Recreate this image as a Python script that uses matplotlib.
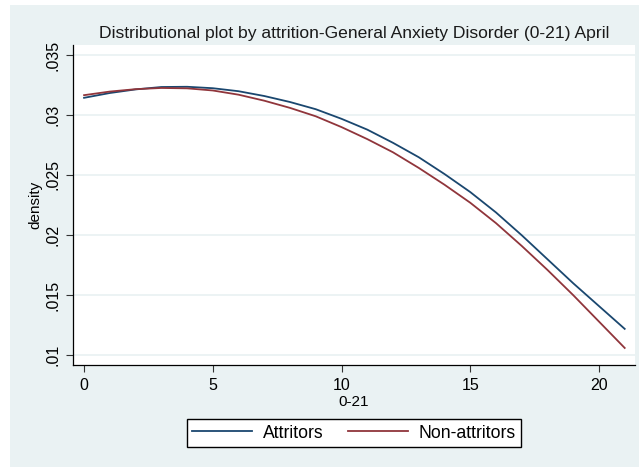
import matplotlib
matplotlib.use("Agg")
import matplotlib.pyplot as plt
from matplotlib.patches import Rectangle

# score values (0-21 scale) and density estimates
score = list(range(22))
attritors = [0.03143, 0.03183, 0.03213, 0.03233, 0.03235, 0.03223, 0.03198, 0.03158,
             0.03108, 0.03048, 0.02968, 0.02878, 0.02768, 0.02648, 0.02508, 0.02358,
             0.02188, 0.01998, 0.01798, 0.01598, 0.01408, 0.01218]
non_attritors = [0.03165, 0.03195, 0.03215, 0.03225, 0.03222, 0.03204, 0.03169, 0.03119,
                 0.03059, 0.02989, 0.02899, 0.02799, 0.02689, 0.02559, 0.02419, 0.02269,
                 0.02099, 0.01909, 0.01709, 0.01499, 0.01279, 0.01059]

x_ticks = [0, 5, 10, 15, 20]
y_ticks = [0.01, 0.015, 0.02, 0.025, 0.03, 0.035]
y_tick_labels = [".01", ".015", ".02", ".025", ".03", ".035"]

NAVY = "#1A476F"
MAROON = "#90353B"
BG = "#EAF2F3"

plt.rcParams["font.family"] = ["Liberation Sans", "DejaVu Sans"]

W, H = 639, 467
fig = plt.figure(figsize=(W / 100, H / 100), dpi=100, facecolor="white")
# Stata-style graph region
fig.patches.append(Rectangle((10 / W, 0), 1 - 10 / W, 1 - 5 / H,
                             transform=fig.transFigure, facecolor=BG,
                             edgecolor="none", zorder=-10))

ax = fig.add_axes([73 / W, 1 - 365 / H, (635 - 73) / W, (365 - 45) / H])
ax.set_facecolor("white")

ax.plot(score, attritors, color=NAVY, lw=1.3, label="Attritors")
ax.plot(score, non_attritors, color=MAROON, lw=1.3, label="Non-attritors")

ax.set_xlim(-0.43, 21.4)
ax.set_ylim(0.00917, 0.03583)
ax.set_xticks(x_ticks)
ax.set_yticks(y_ticks)
ax.set_yticklabels(y_tick_labels, rotation=90, va="center")
ax.tick_params(axis="both", length=5, width=0.8, color="#333333",
               labelsize=11.5, pad=4)
ax.yaxis.grid(True, color=BG, lw=1.3)
ax.set_axisbelow(True)

for s in ("top", "right"):
    ax.spines[s].set_visible(False)
for s in ("left", "bottom"):
    ax.spines[s].set_linewidth(0.9)

ax.set_xlabel("0-21", fontsize=11, labelpad=2)
ax.set_ylabel("density", fontsize=11, labelpad=2)
ax.set_title("Distributional plot by attrition-General Anxiety Disorder (0-21) April",
             fontsize=12.6, color="#1a1a1a", pad=5)

fig.legend(loc="center", bbox_to_anchor=(354 / W, 1 - 433 / H), ncol=2,
           fontsize=12.7, frameon=True, fancybox=False, edgecolor="black",
           framealpha=1, handlelength=3.4, columnspacing=1.4,
           borderpad=0.3, handletextpad=0.6)

fig.savefig("out.png", dpi=100)
